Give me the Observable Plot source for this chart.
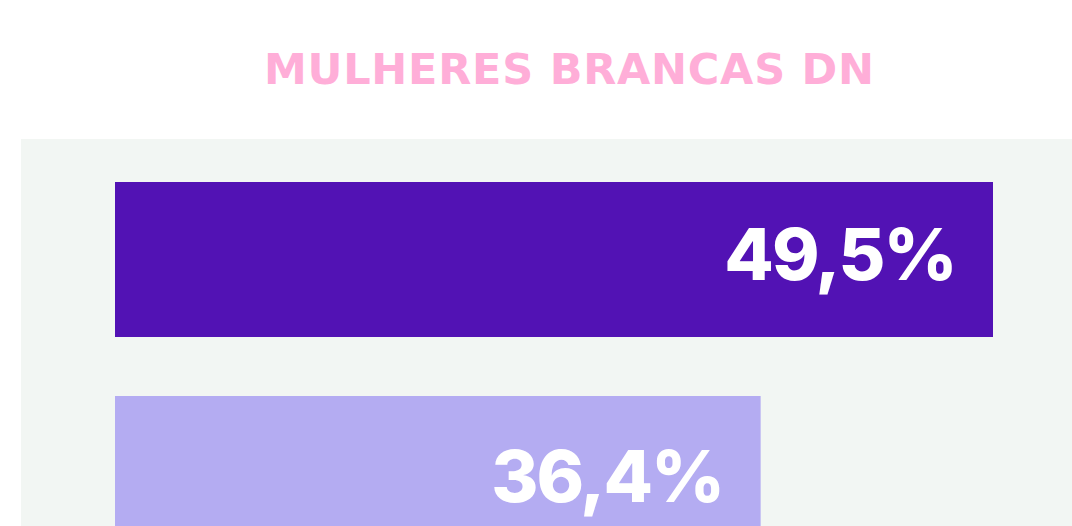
<!DOCTYPE html>
<html>
<head>
<meta charset="utf-8">
<script src="https://cdn.jsdelivr.net/npm/d3@7"></script>
<script src="https://cdn.jsdelivr.net/npm/@observablehq/plot@0.6"></script>
<style>
  html, body { margin: 0; padding: 0; background: #ffffff; width: 1072px; height: 526px; overflow: hidden; }
  #title {
    height: 139px; width: 1072px; position: relative;
    font-family: "DejaVu Sans", Lato, sans-serif; font-weight: 700;
    font-size: 43px; color: #ffaed8; letter-spacing: 0.75px;
  }
  #title span { position: absolute; top: 48px; left: 264px; white-space: nowrap; line-height: 1; }
  #chart { margin-left: 21px; }
  #chart svg { display: block; }
</style>
</head>
<body>
<div id="title"><span>MULHERES BRANCAS DN</span></div>
<div id="chart"></div>
<script>
const categories = ["Grupo 1", "Grupo 2"];
const values = [49.5, 36.4];
const valueLabels = ["49,5%", "36,4%"];
const barColors = ["#5212b4", "#b4acf2"];

const data = categories.map((c, i) => ({category: c, value: values[i], label: valueLabels[i], color: barColors[i]}));

const labelStyle = {
  x: "value", y: "category", text: "label",
  textAnchor: "end", dx: -38,
  fill: "#ffffff", fontSize: 72, fontWeight: 800,
  fontFamily: "Inter, Lato, sans-serif"
};

const chart = Plot.plot({
  width: 1051,
  height: 387,
  marginLeft: 94,
  marginRight: 79,
  marginTop: 0,
  marginBottom: 0,
  style: {background: "#f2f6f3", overflow: "hidden"},
  x: {domain: [0, 49.5], axis: null},
  y: {domain: categories, range: [43, 414], paddingInner: 0.2744, paddingOuter: 0, align: 0, axis: null},
  marks: [
    Plot.barX(data, {x: "value", y: "category", fill: "color"}),
    Plot.text(data.slice(0, 1), {...labelStyle, dy: -3}),
    Plot.text(data.slice(1), {...labelStyle, dy: 5})
  ]
});
chart.querySelectorAll("text").forEach(t => t.setAttribute("letter-spacing", "-2"));
document.getElementById("chart").appendChild(chart);
</script>
</body>
</html>
